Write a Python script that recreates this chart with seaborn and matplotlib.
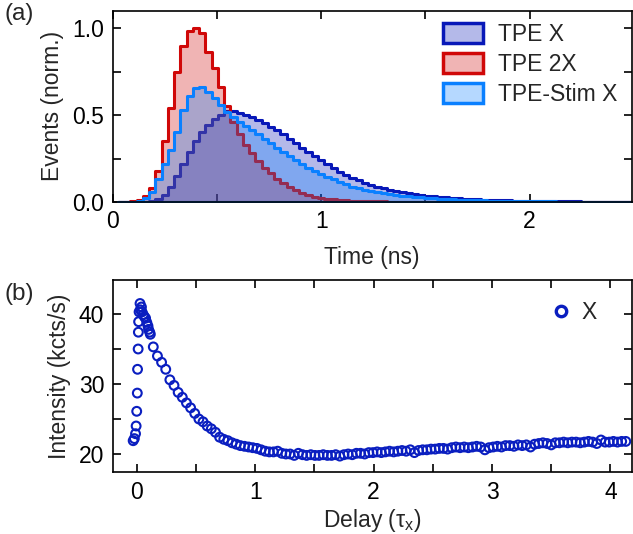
import numpy as np
import pandas as pd
import matplotlib
matplotlib.use("Agg")
import matplotlib.pyplot as plt
import seaborn as sns
from matplotlib.patches import Patch
from matplotlib.lines import Line2D
from matplotlib.ticker import MultipleLocator, FormatStrFormatter
from matplotlib.colors import to_rgba

# ---------------- data (panel a): normalised histograms, 30 ps bins ----------------
BIN_START = 0.025   # ns, left edge of first bin
BIN_WIDTH = 0.03    # ns

tpe_x = [0, 0, 0, 0.001, 0.002,
         0.005, 0.015, 0.04, 0.085, 0.15, 0.22, 0.29, 0.35, 0.40, 0.445,
         0.475, 0.50, 0.522, 0.522, 0.512, 0.50, 0.487, 0.47, 0.453, 0.434,
         0.412, 0.39, 0.363, 0.34, 0.313, 0.287, 0.262, 0.24, 0.217, 0.196,
         0.175, 0.157, 0.14, 0.126, 0.111, 0.098, 0.087, 0.078, 0.07, 0.062,
         0.056, 0.05, 0.045, 0.04, 0.036, 0.032, 0.029, 0.026, 0.023, 0.021,
         0.019, 0.017, 0.015, 0.013, 0.012, 0.011, 0.010, 0.009, 0.008, 0.007,
         0.006, 0.006, 0.005, 0.005, 0.004, 0.004, 0.003, 0.003, 0.003, 0.002,
         0.002, 0.002, 0.002, 0.001, 0.001, 0.001, 0.001, 0.001]

tpe_2x = [0, 0, 0.004, 0.012, 0.035,
          0.08, 0.18, 0.35, 0.54, 0.75, 0.90, 0.985, 1.0, 0.97, 0.865,
          0.77, 0.66, 0.55, 0.46, 0.39, 0.33, 0.28, 0.235, 0.198, 0.165,
          0.135, 0.108, 0.086, 0.067, 0.052, 0.040, 0.031, 0.024, 0.019, 0.015,
          0.012, 0.009, 0.007, 0.006, 0.005, 0.004, 0.003, 0.003, 0.002, 0.002,
          0.002, 0.001, 0.001, 0.001, 0.001, 0.001, 0.001, 0.001, 0.001, 0.001,
          0.001, 0, 0, 0, 0, 0, 0, 0, 0, 0,
          0, 0, 0, 0, 0, 0, 0, 0, 0, 0,
          0, 0, 0, 0, 0, 0, 0, 0]

tpe_stim_x = [0, 0, 0.002, 0.008, 0.025,
              0.06, 0.13, 0.22, 0.30, 0.40, 0.53, 0.61, 0.655, 0.66, 0.63,
              0.60, 0.56, 0.52, 0.49, 0.462, 0.437, 0.414, 0.39, 0.362, 0.337,
              0.31, 0.285, 0.262, 0.24, 0.218, 0.197, 0.178, 0.161, 0.146, 0.131,
              0.115, 0.102, 0.089, 0.080, 0.071, 0.063, 0.056, 0.050, 0.044, 0.040,
              0.036, 0.032, 0.029, 0.026, 0.024, 0.021, 0.019, 0.017, 0.015, 0.014,
              0.012, 0.011, 0.010, 0.009, 0.008, 0.007, 0.006, 0.006, 0.005, 0.005,
              0.004, 0.004, 0.003, 0.003, 0.003, 0.002, 0.002, 0.002, 0.002, 0.001,
              0.001, 0.001, 0.001, 0.001, 0.001, 0.001, 0.001, 0.001]

series_labels = ["TPE X", "TPE 2X", "TPE-Stim X"]

# ---------------- data (panel b): intensity vs delay ----------------
delay = [-0.03, -0.02, -0.01, -0.005, 0.0, 0.005, 0.007, 0.012, 0.014, 0.016,
         0.02, 0.028, 0.03, 0.04, 0.045, 0.055, 0.065, 0.075, 0.085, 0.095,
         0.10, 0.11, 0.115,
         0.14, 0.175, 0.21, 0.245, 0.28, 0.315, 0.35, 0.385, 0.42, 0.455,
         0.49, 0.525, 0.56, 0.595, 0.63, 0.665, 0.70, 0.735, 0.77, 0.805,
         0.84, 0.875, 0.91, 0.945, 0.98, 1.015, 1.05, 1.085, 1.12, 1.155,
         1.19, 1.225, 1.26, 1.295, 1.33, 1.365, 1.40, 1.435, 1.47, 1.505,
         1.54, 1.575, 1.61, 1.645, 1.68, 1.715, 1.75, 1.785, 1.82, 1.855,
         1.89, 1.925, 1.96, 1.995, 2.03, 2.065, 2.10, 2.135, 2.17, 2.205,
         2.24, 2.275, 2.31, 2.345, 2.38, 2.415, 2.45, 2.485, 2.52, 2.555,
         2.59, 2.625, 2.66, 2.695, 2.73, 2.765, 2.80, 2.835, 2.87, 2.905,
         2.94, 2.975, 3.01, 3.045, 3.08, 3.115, 3.15, 3.185, 3.22, 3.255,
         3.29, 3.325, 3.36, 3.395, 3.43, 3.465, 3.50, 3.535, 3.57, 3.605,
         3.64, 3.675, 3.71, 3.745, 3.78, 3.815, 3.85, 3.885, 3.92, 3.955,
         3.99, 4.025, 4.06, 4.095, 4.13]

intensity = [21.9, 22.2, 22.9, 24.0, 26.1, 28.7, 32.1, 35.0, 37.4, 38.9,
             40.3, 41.5, 40.6, 41.0, 40.3, 39.9, 39.6, 39.4, 38.8, 38.3,
             37.8, 37.4, 37.1,
             35.3, 34.0, 33.1, 32.1, 30.6, 29.8, 28.8, 28.1, 27.3, 26.6,
             25.8, 25.0, 24.6, 24.0, 23.6, 23.1, 22.4, 22.1, 21.9, 21.6,
             21.4, 21.2, 21.1, 21.0, 20.9, 20.8, 20.6, 20.4, 20.3, 20.3,
             20.4, 20.1, 20.0, 20.0, 19.8, 20.1, 19.9, 19.8, 19.9, 19.8,
             19.8, 19.9, 19.8, 19.8, 19.9, 19.7, 19.9, 20.0, 19.9, 20.1,
             20.1, 20.0, 20.2, 20.2, 20.3, 20.2, 20.3, 20.4, 20.3, 20.4,
             20.5, 20.4, 20.6, 20.2, 20.5, 20.6, 20.6, 20.7, 20.7, 20.8,
             20.8, 20.7, 20.9, 21.0, 20.9, 21.0, 20.9, 21.0, 21.1, 21.0,
             20.6, 20.9, 21.0, 21.1, 21.0, 21.2, 21.2, 21.1, 21.3, 21.2,
             21.3, 21.0, 21.4, 21.5, 21.6, 21.5, 21.3, 21.6, 21.6, 21.7,
             21.6, 21.7, 21.7, 21.6, 21.7, 21.8, 21.7, 21.5, 22.0, 21.7,
             21.7, 21.8, 21.7, 21.8, 21.8]

# ---------------- style ----------------
COL_X = "#0818b8"
COL_2X = "#d00808"
COL_STIM = "#0a80ff"
COL_PTS = "#0a1ec0"
FS = 16.5

sns.set_theme(style="ticks")
plt.rcParams.update({
    "axes.linewidth": 1.2,
    "axes.edgecolor": "black",
    "mathtext.fontset": "custom",
    "mathtext.rm": "Liberation Sans",
    "mathtext.it": "Liberation Sans:italic",
})
plt.rcParams["font.family"] = ["Liberation Sans", "DejaVu Sans"]

fig = plt.figure(figsize=(6.33, 5.34), dpi=100)
ax1 = fig.add_axes([0.178, 0.6217, 0.820, 0.3582])
ax2 = fig.add_axes([0.178, 0.1152, 0.820, 0.3605])

# ---------------- panel (a) ----------------
n_bins = len(tpe_x)
edges = BIN_START + BIN_WIDTH * np.arange(n_bins + 1)
centers = edges[:-1] + BIN_WIDTH / 2
bin_list = [float(e) for e in edges]

for vals, col in [(tpe_x, COL_X), (tpe_2x, COL_2X), (tpe_stim_x, COL_STIM)]:
    df = pd.DataFrame({"t": centers, "w": vals})
    sns.histplot(data=df, x="t", weights="w", bins=bin_list, element="step",
                 fill=True, color=col, alpha=0.3, linewidth=2.2, ax=ax1)

ax1.set_xlim(0, 2.49)
ax1.set_ylim(0, 1.1)
ax1.xaxis.set_major_locator(MultipleLocator(1))
ax1.xaxis.set_minor_locator(MultipleLocator(0.5))
ax1.yaxis.set_major_locator(MultipleLocator(0.5))
ax1.yaxis.set_minor_locator(MultipleLocator(0.25))
ax1.yaxis.set_major_formatter(FormatStrFormatter("%.1f"))
ax1.set_xlabel("Time (ns)", fontsize=FS, labelpad=9)
ax1.set_ylabel("Events (norm.)", fontsize=FS, labelpad=6)

handles = [Patch(facecolor=to_rgba(c, 0.3), edgecolor=c, linewidth=2.5)
           for c in (COL_X, COL_2X, COL_STIM)]
ax1.legend(handles, series_labels, loc="upper right", bbox_to_anchor=(0.99, 0.985),
           borderaxespad=0, frameon=False, fontsize=FS, handlelength=1.75,
           handleheight=0.95, handletextpad=0.65, labelspacing=0.3)

# ---------------- panel (b) ----------------
df_b = pd.DataFrame({"delay": delay, "intensity": intensity})
sns.scatterplot(data=df_b, x="delay", y="intensity", ax=ax2, marker="o", s=40,
                facecolors="none", edgecolor=COL_PTS, linewidth=1.5)
ax2.set_xlim(-0.203, 4.18)
ax2.set_ylim(17.36, 44.86)
ax2.xaxis.set_major_locator(MultipleLocator(1))
ax2.xaxis.set_minor_locator(MultipleLocator(0.5))
ax2.yaxis.set_major_locator(MultipleLocator(10))
ax2.yaxis.set_minor_locator(MultipleLocator(5))
ax2.set_xlabel("Delay (τ$_\\mathregular{x}$)", fontsize=FS, labelpad=2)
ax2.set_ylabel("Intensity (kcts/s)", fontsize=FS, labelpad=6)
leg_h = [Line2D([], [], linestyle="none", marker="o", markersize=7.5,
                markerfacecolor="none", markeredgecolor=COL_PTS, markeredgewidth=2.4)]
ax2.legend(leg_h, ["X"], loc="upper right", bbox_to_anchor=(0.95, 0.94),
           borderaxespad=0, frameon=False, fontsize=FS, handlelength=1.0,
           handletextpad=0.4)

for ax in (ax1, ax2):
    ax.tick_params(which="both", direction="in", top=True, right=True,
                   length=5.5, width=1.2, labelsize=FS, pad=6, colors="black")
    for s in ax.spines.values():
        s.set_linewidth(1.2)
        s.set_visible(True)

fig.text(5 / 633, 1 - 3 / 534, "(a)", fontsize=17.5, va="top", ha="left")
fig.text(5 / 633, 1 - 283 / 534, "(b)", fontsize=17.5, va="top", ha="left")

fig.savefig("out.png", dpi=100)
